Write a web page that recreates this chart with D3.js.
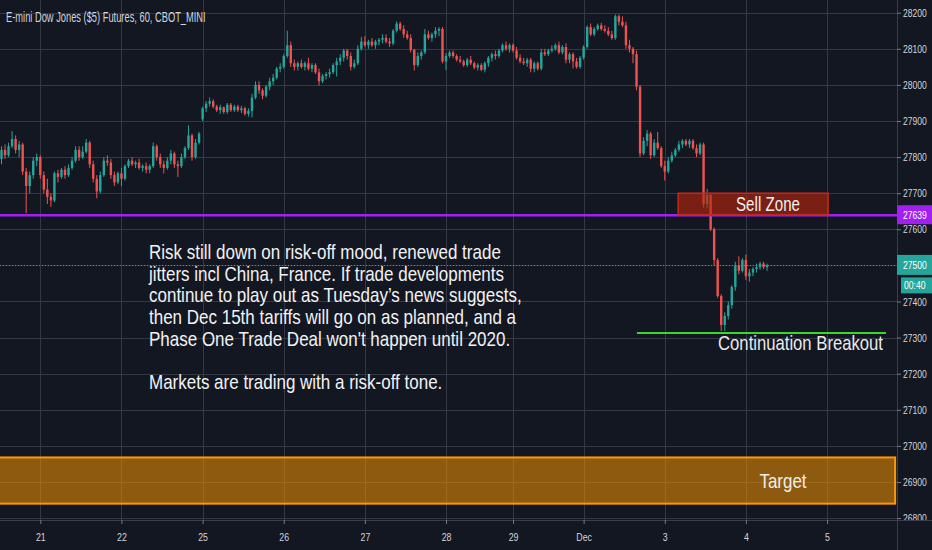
<!DOCTYPE html>
<html lang="en">
<head>
<meta charset="UTF-8">
<title>E-mini Dow Jones ($5) Futures, 60</title>
<style>
  html, body { margin: 0; padding: 0; background: #131722; }
  svg { display: block; }
  text { font-family: "Liberation Sans", Arial, sans-serif; }
</style>
</head>
<body>
<div id="chart"></div>
<script src="https://d3js.org/d3.v7.min.js"></script>
<script>
// hourly bars, [open, high, low, close]
var candles = [
  [27795,27830,27780,27820],[27820,27835,27795,27805],[27805,27840,27800,27830],[27830,27872,27825,27850],
  [27850,27860,27810,27820],[27820,27845,27800,27835],[27835,27840,27750,27760],[27760,27770,27645,27720],
  [27720,27760,27700,27750],[27750,27800,27740,27790],[27790,27810,27775,27800],[27800,27805,27740,27750],
  [27750,27760,27700,27710],[27710,27740,27670,27690],[27690,27700,27662,27680],[27680,27760,27675,27755],
  [27755,27765,27730,27745],[27745,27770,27740,27765],[27765,27775,27740,27750],[27750,27780,27745,27770],
  [27770,27800,27765,27790],[27790,27830,27785,27820],[27820,27830,27790,27800],[27800,27830,27795,27815],
  [27815,27850,27810,27840],[27840,27845,27770,27780],[27780,27790,27730,27740],[27740,27750,27686,27705],
  [27705,27760,27700,27750],[27750,27800,27745,27790],[27790,27805,27775,27785],[27785,27795,27740,27750],
  [27750,27760,27720,27730],[27730,27760,27725,27755],[27755,27770,27720,27740],[27740,27780,27735,27775],
  [27775,27795,27770,27790],[27790,27800,27775,27780],[27780,27790,27770,27785],[27785,27795,27765,27770],
  [27770,27780,27760,27775],[27775,27785,27755,27765],[27765,27780,27755,27775],[27775,27840,27770,27830],
  [27830,27835,27790,27800],[27800,27810,27770,27780],[27780,27790,27755,27770],[27770,27800,27765,27790],
  [27790,27820,27780,27810],[27810,27815,27770,27780],[27780,27790,27745,27775],[27775,27810,27770,27800],
  [27800,27830,27795,27825],[27825,27888,27820,27860],[27860,27865,27790,27800],[27800,27850,27795,27840],
  [27840,27870,27835,27865],[27905,27940,27900,27935],[27935,27955,27925,27948],[27948,27965,27940,27955],
  [27955,27960,27935,27940],[27940,27945,27925,27930],[27930,27945,27920,27938],[27938,27940,27920,27925],
  [27925,27950,27920,27945],[27945,27950,27925,27930],[27930,27945,27925,27940],[27940,27945,27925,27930],
  [27930,27942,27922,27935],[27935,27940,27915,27920],[27920,27935,27912,27928],[27928,27975,27910,27965],
  [27965,28010,27960,28000],[28000,28010,27975,27985],[27985,27990,27960,27970],[27970,28000,27965,27995],
  [27995,28020,27985,28010],[28010,28030,28000,28020],[28020,28050,28015,28045],[28045,28060,28035,28050],
  [28050,28085,28045,28080],[28080,28150,28075,28110],[28110,28120,28050,28060],[28060,28070,28040,28050],
  [28050,28065,28040,28060],[28060,28070,28045,28050],[28050,28065,28040,28060],[28060,28075,28040,28045],
  [28045,28060,28035,28055],[28055,28060,28030,28035],[28035,28045,27998,28010],[28010,28030,28005,28025],
  [28025,28035,28015,28030],[28030,28045,28020,28035],[28035,28060,28030,28055],[28055,28075,28023,28065],
  [28065,28085,28055,28075],[28075,28100,28065,28095],[28095,28100,28070,28080],[28080,28090,28040,28050],
  [28050,28070,28045,28060],[28060,28110,28055,28100],[28100,28133,28095,28120],[28120,28135,28105,28110],
  [28110,28125,28100,28120],[28120,28130,28105,28110],[28110,28125,28100,28120],[28120,28130,28110,28125],
  [28125,28140,28115,28130],[28130,28140,28115,28120],[28120,28130,28105,28115],[28115,28155,28110,28150],
  [28150,28176,28145,28170],[28170,28175,28150,28155],[28155,28165,28130,28140],[28140,28150,28125,28130],
  [28130,28140,28090,28097],[28097,28100,28040,28055],[28055,28090,28050,28080],[28080,28095,28070,28090],
  [28090,28155,28085,28140],[28140,28150,28125,28130],[28130,28145,28120,28140],[28140,28160,28130,28150],
  [28150,28160,28135,28155],[28155,28160,28060,28065],[28065,28088,28041,28080],[28080,28095,28075,28090],
  [28090,28095,28075,28080],[28080,28085,28065,28070],[28070,28080,28060,28065],[28065,28070,28050,28055],
  [28055,28075,28050,28070],[28070,28080,28055,28060],[28060,28065,28043,28048],[28048,28060,28040,28055],
  [28055,28060,28038,28042],[28042,28065,28035,28060],[28060,28080,28050,28075],[28075,28090,28065,28085],
  [28085,28095,28070,28080],[28080,28100,28075,28095],[28095,28115,28090,28110],[28110,28120,28095,28100],
  [28100,28115,28090,28110],[28110,28115,28090,28095],[28095,28105,28070,28075],[28075,28085,28060,28065],
  [28065,28075,28055,28060],[28060,28075,28050,28070],[28070,28075,28035,28045],[28045,28065,28035,28060],
  [28060,28065,28040,28045],[28045,28100,28040,28090],[28090,28100,28080,28085],[28085,28100,28080,28095],
  [28095,28110,28090,28100],[28100,28115,28095,28110],[28110,28120,28085,28090],[28090,28110,28085,28105],
  [28105,28115,28060,28070],[28070,28090,28060,28085],[28085,28090,28046,28065],[28065,28075,28045,28050],
  [28050,28080,28045,28075],[28075,28110,28070,28105],[28105,28165,28100,28160],[28160,28170,28135,28140],
  [28140,28160,28135,28155],[28155,28170,28150,28165],[28165,28172,28150,28155],[28155,28165,28145,28150],
  [28150,28160,28135,28140],[28140,28150,28125,28130],[28130,28195,28125,28190],[28190,28195,28165,28175],
  [28175,28190,28160,28165],[28165,28175,28100,28110],[28110,28125,28090,28100],[28100,28105,28060,28085],
  [28085,28095,27985,27995],[27995,28000,27800,27810],[27810,27855,27805,27845],[27845,27875,27830,27865],
  [27865,27870,27795,27805],[27805,27850,27800,27840],[27840,27870,27820,27825],[27825,27830,27770,27775],
  [27775,27790,27735,27760],[27760,27800,27755,27790],[27790,27815,27785,27805],[27805,27825,27800,27820],
  [27820,27845,27815,27835],[27835,27850,27825,27845],[27845,27850,27830,27835],[27835,27850,27825,27845],
  [27845,27850,27820,27825],[27825,27835,27800,27810],[27810,27840,27805,27835],[27835,27840,27660,27670],
  [27670,27712,27660,27695],[27695,27700,27595,27600],[27600,27605,27500,27515],[27515,27520,27410,27415],
  [27415,27420,27318,27335],[27335,27370,27318,27360],[27360,27400,27350,27390],[27390,27445,27380,27440],
  [27440,27510,27430,27500],[27500,27525,27475,27485],[27485,27520,27480,27515],[27515,27530,27460,27470],
  [27470,27490,27455,27480],[27480,27495,27470,27490],[27490,27505,27480,27495],[27495,27510,27488,27505],
  [27505,27510,27490,27495],[27495,27505,27485,27500]
];

var dayLabels = ["21", "22", "25", "26", "27", "28", "29", "Dec", "3", "4", "5"];
var dayBars = [11, 34, 57, 80, 103, 126, 145, 165, 188, 211, 234];
var priceTicks = [26800, 26900, 27000, 27100, 27200, 27300, 27400, 27500, 27600, 27700, 27800, 27900, 28000, 28100, 28200];

var purpleLevel = 27639;
var lastPrice = 27500;
var countdown = "00:40";
var sellZoneBars = [191.8, 234.3], sellZonePrices = [27640, 27700];
var breakoutBars = [180.1, 250.7], breakoutPrice = 27313;
var targetBars = [-2, 253.3], targetPrices = [26840, 26968];

var title = "E-mini Dow Jones ($5) Futures, 60, CBOT_MINI";
var noteLines = [
  "Risk still down on risk-off mood, renewed trade",
  "jitters incl China, France. If trade developments",
  "continue to play out as Tuesday\u2019s news suggests,",
  "then Dec 15th tariffs will go on as planned, and a",
  "Phase One Trade Deal won't happen until 2020.",
  "",
  "Markets are trading with a risk-off tone."
];

var W = 932, H = 550, plotW = 897, plotH = 520;
var up = "#26a69a", down = "#ef5350", grid = "#343845", txt = "#d1d4dc";

// squeeze text horizontally around its x anchor (chart font is a condensed face)
function condense(sel, k) {
  sel.each(function() {
    var t = d3.select(this), x0 = +t.attr("x") || 0;
    t.attr("transform", "translate(" + x0 + ",0) scale(" + k + ",1) translate(" + (-x0) + ",0)");
  });
}
function fitTo(sel, w) {
  condense(sel, w / sel.node().getComputedTextLength());
}
function crisp(v) { return Math.round(v) + 0.5; }

var svg = d3.select("#chart").append("svg")
    .attr("width", W)
    .attr("height", H);

svg.append("rect").attr("width", W).attr("height", H).attr("fill", "#131722");

var x = d3.scaleLinear().domain([0, 253.6]).range([1.5, 896.2]);
var y = d3.scaleLinear().domain([26794.7, 28235.2]).range([plotH, 0]);

svg.append("clipPath").attr("id", "plotclip")
  .append("rect").attr("width", plotW).attr("height", plotH);
svg.append("clipPath").attr("id", "axisclip")
  .append("rect").attr("x", plotW).attr("width", W - plotW).attr("height", plotH);

var plot = svg.append("g").attr("clip-path", "url(#plotclip)");

// grid
plot.selectAll(".hgrid").data(priceTicks).enter().append("line")
    .attr("x1", 0).attr("x2", plotW)
    .attr("y1", function(d) { return crisp(y(d)); })
    .attr("y2", function(d) { return crisp(y(d)); })
    .attr("stroke", grid);

plot.selectAll(".vgrid").data(dayBars).enter().append("line")
    .attr("y1", 0).attr("y2", plotH)
    .attr("x1", function(d) { return crisp(x(d)); })
    .attr("x2", function(d) { return crisp(x(d)); })
    .attr("stroke", grid);

// target zone
plot.append("rect")
    .attr("x", x(targetBars[0]))
    .attr("width", x(targetBars[1]) - x(targetBars[0]))
    .attr("y", y(targetPrices[1]))
    .attr("height", y(targetPrices[0]) - y(targetPrices[1]))
    .attr("fill", "#ff9800").attr("fill-opacity", 0.52)
    .attr("stroke", "#ff9800").attr("stroke-width", 2);

// candles
var bw = 2.4;
var bar = plot.selectAll(".candle").data(candles).enter().append("g")
    .attr("class", "candle");

bar.append("line")
    .attr("x1", function(d, i) { return x(i); })
    .attr("x2", function(d, i) { return x(i); })
    .attr("y1", function(d) { return y(d[1]); })
    .attr("y2", function(d) { return y(d[2]); })
    .attr("stroke", function(d) { return d[3] >= d[0] ? up : down; })
    .attr("stroke-width", 1);

bar.append("rect")
    .attr("x", function(d, i) { return x(i) - bw / 2; })
    .attr("width", bw)
    .attr("y", function(d) { return y(Math.max(d[0], d[3])); })
    .attr("height", function(d) { return Math.max(1, Math.abs(y(d[0]) - y(d[3]))); })
    .attr("fill", function(d) { return d[3] >= d[0] ? up : down; });

// last price dotted line
plot.append("line")
    .attr("x1", 0).attr("x2", plotW)
    .attr("y1", crisp(y(lastPrice))).attr("y2", crisp(y(lastPrice)))
    .attr("stroke", up).attr("stroke-width", 1)
    .attr("stroke-dasharray", "1,2");

// purple level
plot.append("line")
    .attr("x1", 0).attr("x2", plotW)
    .attr("y1", y(purpleLevel)).attr("y2", y(purpleLevel))
    .attr("stroke", "#a020f0").attr("stroke-width", 2.5);

// sell zone
plot.append("rect")
    .attr("x", x(sellZoneBars[0]))
    .attr("width", x(sellZoneBars[1]) - x(sellZoneBars[0]))
    .attr("y", y(sellZonePrices[1]))
    .attr("height", y(sellZonePrices[0]) - y(sellZonePrices[1]))
    .attr("fill", "#be240a").attr("fill-opacity", 0.6)
    .attr("stroke", "#c2291b").attr("stroke-width", 1.5);

var sellTxt = plot.append("text")
    .attr("x", 768)
    .attr("y", y((sellZonePrices[0] + sellZonePrices[1]) / 2))
    .attr("dy", "0.36em")
    .attr("text-anchor", "middle")
    .attr("fill", "#f0f0f0").attr("font-size", 20)
    .text("Sell Zone");
fitTo(sellTxt, 64);

// breakout line
plot.append("line")
    .attr("x1", x(breakoutBars[0])).attr("x2", x(breakoutBars[1]))
    .attr("y1", y(breakoutPrice)).attr("y2", y(breakoutPrice))
    .attr("stroke", "#3ad62a").attr("stroke-width", 2);

var brkTxt = plot.append("text")
    .attr("x", 883)
    .attr("y", y(breakoutPrice) + 17)
    .attr("text-anchor", "end")
    .attr("fill", "#eaeaea").attr("font-size", 20)
    .text("Continuation Breakout");
fitTo(brkTxt, 165);

var tgtTxt = plot.append("text")
    .attr("x", 783)
    .attr("y", y((targetPrices[0] + targetPrices[1]) / 2))
    .attr("dy", "0.36em")
    .attr("text-anchor", "middle")
    .attr("fill", "#f3efe6").attr("font-size", 20)
    .text("Target");
fitTo(tgtTxt, 47);

// commentary
var notes = plot.append("g").selectAll("text").data(noteLines).enter().append("text")
    .attr("x", 149)
    .attr("y", function(d, i) { return 259 + i * 21.7; })
    .attr("fill", "#f2f2f2").attr("font-size", 21)
    .text(function(d) { return d; });
condense(notes, 352 / notes.node().getComputedTextLength());

// title
var ttl = svg.append("text")
    .attr("x", 6).attr("y", 22)
    .attr("fill", txt).attr("font-size", 14)
    .text(title);
fitTo(ttl, 200);

// axes frame
svg.append("line").attr("x1", plotW + 0.5).attr("x2", plotW + 0.5)
    .attr("y1", 0).attr("y2", H).attr("stroke", "#3a3e4a");
svg.append("line").attr("x1", 0).attr("x2", W)
    .attr("y1", plotH + 0.5).attr("y2", plotH + 0.5).attr("stroke", "#3a3e4a");

var yAxis = d3.axisRight(y).tickValues(priceTicks).tickSize(4).tickPadding(2)
    .tickFormat(d3.format("d"));
var ya = svg.append("g").attr("clip-path", "url(#axisclip)")
  .append("g").attr("transform", "translate(" + plotW + ",0)")
    .call(yAxis);
ya.select(".domain").remove();
ya.selectAll(".tick line").attr("stroke", "#787b86");
ya.selectAll(".tick text").attr("fill", txt).attr("font-size", 11)
    .style("font-family", "'Liberation Sans', Arial, sans-serif");
condense(ya.selectAll(".tick text"), 0.78);

var xAxis = d3.axisBottom(x).tickValues(dayBars).tickSize(4).tickPadding(9)
    .tickFormat(function(d, i) { return dayLabels[i]; });
var xa = svg.append("g").attr("transform", "translate(0," + plotH + ")")
    .call(xAxis);
xa.select(".domain").remove();
xa.selectAll(".tick line").attr("stroke", "#787b86");
xa.selectAll(".tick text").attr("fill", txt).attr("font-size", 11)
    .style("font-family", "'Liberation Sans', Arial, sans-serif");
condense(xa.selectAll(".tick text"), 0.8);

// price tags on the axis
function tag(yc, h, x0, label, fill) {
  svg.append("rect").attr("x", x0).attr("y", yc - h / 2)
      .attr("width", W - x0).attr("height", h).attr("fill", fill);
  var t = svg.append("text").attr("x", x0 + (x0 > plotW + 2 ? 3 : 6)).attr("y", yc).attr("dy", "0.36em")
      .attr("fill", "#ffffff").attr("font-size", 11).text(label);
  condense(t, 0.78);
}
tag(y(purpleLevel) - 0.5, 19, plotW, d3.format("d")(purpleLevel), "#a020f0");
tag(y(lastPrice) - 0.5, 20, plotW, d3.format("d")(lastPrice), up);
tag(y(lastPrice) + 20, 16, plotW + 4, countdown, up);
</script>
</body>
</html>
